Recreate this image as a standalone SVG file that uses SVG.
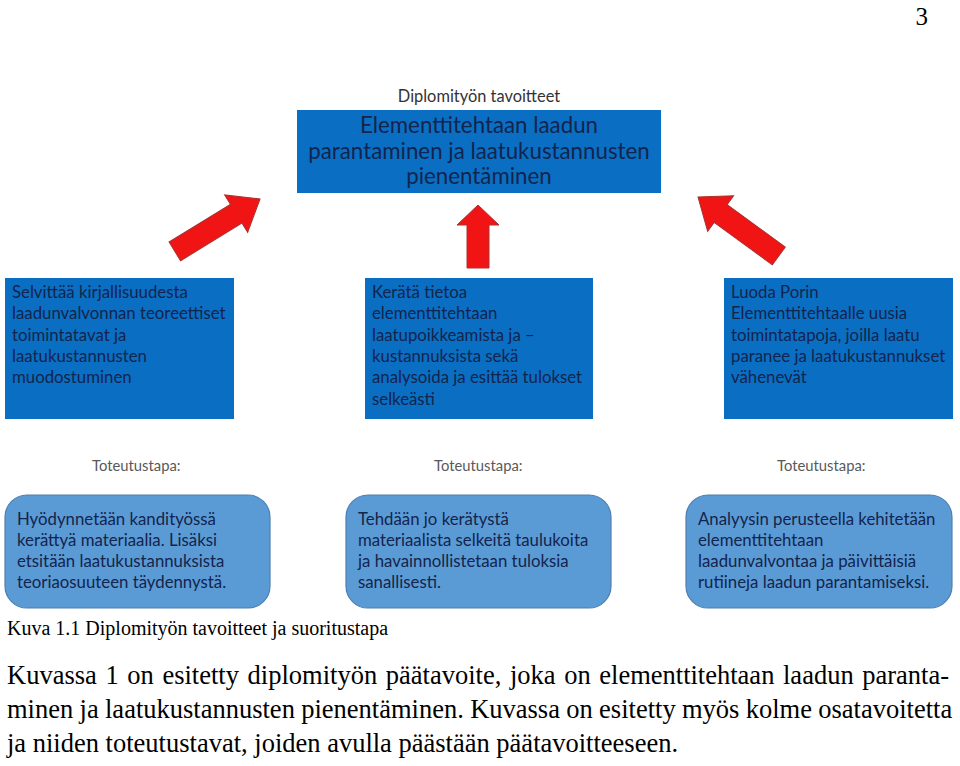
<svg xmlns="http://www.w3.org/2000/svg" width="960" height="766" viewBox="0 0 960 766">
<style>
.serif{font-family:"Liberation Serif","Times New Roman",serif;fill:#000}
.sans{font-family:Lato,"Open Sans","Liberation Sans",sans-serif}
.goal{fill:#0a6fc2}
.way{fill:#5b9bd5;stroke:#4f7fb0;stroke-width:1.2}
.t{font-size:16.8px;fill:#13244d}
.tt{font-size:22.3px;fill:#13244d}
.lbl{font-size:14.8px;fill:#595959}
.arrow{fill:#f01414;stroke:#a83232;stroke-width:1}
</style>
<rect width="960" height="766" fill="#fff"/>
<text class="serif" x="928" y="25" font-size="25" text-anchor="end">3</text>

<g id="main-goal">
<text class="sans" x="479" y="102" text-anchor="middle" font-size="16.4" style="fill:#333">Diplomityön tavoitteet</text>
<rect class="goal" x="297" y="110" width="364" height="83"/>
<text class="sans tt" text-anchor="middle"><tspan x="479" y="133">Elementtitehtaan laadun</tspan><tspan x="479" y="159">parantaminen ja laatukustannusten</tspan><tspan x="479" y="184">pienentäminen</tspan></text>
</g>

<g id="connectors">
<polygon class="arrow" points="0,0 22,28 11,28 11,100 -11,100 -11,28 -22,28" transform="translate(260,199) rotate(58.4)"/>
<polygon class="arrow" points="0,0 21,20 11,20 11,63 -11,63 -11,20 -21,20" transform="translate(478,205)"/>
<polygon class="arrow" points="0,0 22,28 11,28 11,100 -11,100 -11,28 -22,28" transform="translate(698,197) rotate(-53.9)"/>
</g>

<g id="goal1">
<rect class="goal" x="5" y="278" width="229" height="141"/>
<text class="sans t"><tspan x="12" y="298">Selvittää kirjallisuudesta</tspan><tspan x="12" y="319">laadunvalvonnan teoreettiset</tspan><tspan x="12" y="341">toimintatavat ja</tspan><tspan x="12" y="362">laatukustannusten</tspan><tspan x="12" y="383">muodostuminen</tspan></text>
</g>
<g id="goal2">
<rect class="goal" x="365" y="278" width="228" height="141"/>
<text class="sans t"><tspan x="372" y="298">Kerätä tietoa</tspan><tspan x="372" y="319">elementtitehtaan</tspan><tspan x="372" y="341">laatupoikkeamista ja –</tspan><tspan x="372" y="362">kustannuksista sekä</tspan><tspan x="372" y="383">analysoida ja esittää tulokset</tspan><tspan x="372" y="405">selkeästi</tspan></text>
</g>
<g id="goal3">
<rect class="goal" x="724" y="278" width="229" height="141"/>
<text class="sans t"><tspan x="731" y="298">Luoda Porin</tspan><tspan x="731" y="319">Elementtitehtaalle uusia</tspan><tspan x="731" y="341">toimintatapoja, joilla laatu</tspan><tspan x="731" y="362">paranee ja laatukustannukset</tspan><tspan x="731" y="383">vähenevät</tspan></text>
</g>

<g id="way1">
<text class="sans lbl" x="92" y="471">Toteutustapa:</text>
<rect class="way" x="5" y="495" width="265" height="113" rx="22"/>
<text class="sans t"><tspan x="17" y="525">Hyödynnetään kandityössä</tspan><tspan x="17" y="546">kerättyä materiaalia. Lisäksi</tspan><tspan x="17" y="567">etsitään laatukustannuksista</tspan><tspan x="17" y="588">teoriaosuuteen täydennystä.</tspan></text>
</g>
<g id="way2">
<text class="sans lbl" x="434" y="471">Toteutustapa:</text>
<rect class="way" x="346" y="495" width="265" height="113" rx="22"/>
<text class="sans t"><tspan x="358" y="525">Tehdään jo kerätystä</tspan><tspan x="358" y="546">materiaalista selkeitä taulukoita</tspan><tspan x="358" y="567">ja havainnollistetaan tuloksia</tspan><tspan x="358" y="588">sanallisesti.</tspan></text>
</g>
<g id="way3">
<text class="sans lbl" x="777" y="471">Toteutustapa:</text>
<rect class="way" x="686" y="495" width="266" height="113" rx="22"/>
<text class="sans t"><tspan x="698" y="525">Analyysin perusteella kehitetään</tspan><tspan x="698" y="546">elementtitehtaan</tspan><tspan x="698" y="567">laadunvalvontaa ja päivittäisiä</tspan><tspan x="698" y="588">rutiineja laadun parantamiseksi.</tspan></text>
</g>

<text class="serif" x="7" y="635" font-size="20">Kuva 1.1 Diplomityön tavoitteet ja suoritustapa</text>
<g class="serif" font-size="26.5">
<text x="7" y="684" word-spacing="2">Kuvassa 1 on esitetty diplomityön päätavoite, joka on elementtitehtaan laadun paranta-</text>
<text x="7" y="718" word-spacing="-0.3">minen ja laatukustannusten pienentäminen. Kuvassa on esitetty myös kolme osatavoitetta</text>
<text x="7" y="752">ja niiden toteutustavat, joiden avulla päästään päätavoitteeseen.</text>
</g>
</svg>
